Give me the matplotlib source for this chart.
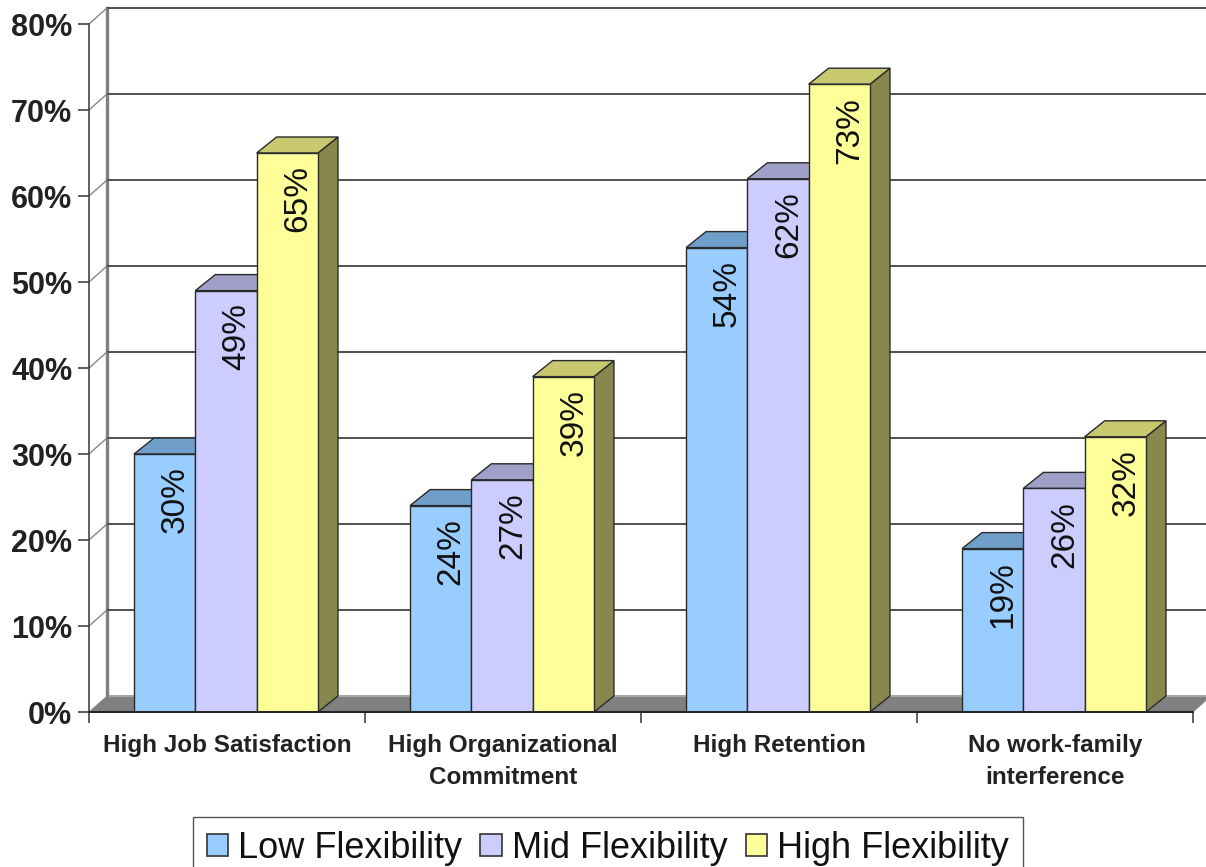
import matplotlib
matplotlib.use("Agg")
import matplotlib.pyplot as plt
from matplotlib.patches import Polygon, Patch

categories = ["High Job Satisfaction", "High Organizational\nCommitment", "High Retention", "No work-family\ninterference"]
series_names = ["Low Flexibility", "Mid Flexibility", "High Flexibility"]
low = [30, 24, 54, 19]
mid = [49, 27, 62, 26]
high = [65, 39, 73, 32]
y_ticks = [0, 10, 20, 30, 40, 50, 60, 70, 80]

front = ["#99CCFF", "#CCCCFF", "#FFFF99"]
top = ["#6F9FC8", "#A09FC8", "#C8C870"]
side = ["#5F88AE", "#86849F", "#88884E"]
EDGE = "#2A2A2A"

W, H = 1206, 867
plt.rcParams["font.family"] = ["Liberation Sans", "DejaVu Sans"]
fig = plt.figure(figsize=(W / 100, H / 100), dpi=100)
L, R, B, T = 89, 1193, 712, 24
ax = fig.add_axes([L / W, 1 - B / H, (R - L) / W, (B - T) / H])
ax.set_xlim(0, 4)
ax.set_ylim(0, 80)
ax.patch.set_visible(False)

ux = (R - L) / 4
uy = (B - T) / 80
wall_dx, wall_dy = 18 / ux, 16 / uy
bar_dx, bar_dy = 20 / ux, 16 / uy
bar_w = 61.3 / ux
shift = -1 / ux

# floor and walls
ax.add_patch(Polygon([(0, 0), (4, 0), (4 + wall_dx, wall_dy), (wall_dx, wall_dy)],
                     closed=True, fc="#808080", ec="#808080", lw=0.5, clip_on=False, zorder=1))
ax.plot([wall_dx, 4 + wall_dx], [wall_dy, wall_dy], color="#A8A8A8", lw=1.5, clip_on=False, zorder=1.1)
ax.plot([wall_dx, wall_dx], [wall_dy, 80 + wall_dy], color="#808080", lw=2.4, clip_on=False, zorder=1.2)
for v in y_ticks[1:]:
    ax.plot([wall_dx, 4 + wall_dx], [v + wall_dy, v + wall_dy], color="#333333", lw=1.2,
            clip_on=False, zorder=1.3)
    ax.plot([0, wall_dx], [v, v + wall_dy], color="#888888", lw=1.0, clip_on=False, zorder=1.35)

# bars
for s, values in enumerate([low, mid, high]):
    for c, v in enumerate(values):
        x0 = c + 0.5 + shift + (s - 1.5) * bar_w
        x1 = x0 + bar_w
        ax.add_patch(Polygon([(x1, 0), (x1 + bar_dx, bar_dy), (x1 + bar_dx, v + bar_dy), (x1, v)],
                             closed=True, fc=side[s], ec=EDGE, lw=1.0, zorder=3 + s, clip_on=False))
        ax.add_patch(Polygon([(x0, v), (x1, v), (x1 + bar_dx, v + bar_dy), (x0 + bar_dx, v + bar_dy)],
                             closed=True, fc=top[s], ec=EDGE, lw=1.0, zorder=3 + s, clip_on=False))
        ax.bar(x0, v, width=bar_w, align="edge", color=front[s], edgecolor=EDGE, lw=1.0, zorder=3.5 + s)
        ax.annotate(f"{v}%", (x0 + bar_w / 2, v), xytext=(7.5, -9), textcoords="offset points",
                    rotation=90, ha="center", va="top", fontsize=24, color="#111111", zorder=8)

# axes
for k in ("top", "right"):
    ax.spines[k].set_visible(False)
ax.spines["left"].set_color("#444444")
ax.spines["left"].set_linewidth(1.2)
ax.spines["bottom"].set_color("#222222")
ax.spines["bottom"].set_linewidth(1.4)
ax.spines["left"].set_zorder(9)
ax.spines["bottom"].set_zorder(9)
ax.set_yticks(y_ticks)
ax.set_yticklabels([f"{v}%" for v in y_ticks], fontsize=22, fontweight="bold", color="#222222")
ax.tick_params(axis="y", length=8, width=1.2, color="#444444", pad=4)
ax.set_xticks(range(5))
ax.set_xticklabels([""] * 5)
ax.tick_params(axis="x", which="major", length=8, width=1.2, color="#444444")
ax.set_xticks([i + 0.5 for i in range(4)], minor=True)
ax.set_xticklabels(categories, minor=True, fontsize=17.5, fontweight="bold", color="#222222", linespacing=1.5)
ax.tick_params(axis="x", which="minor", length=0, pad=16)

handles = [Patch(fc=front[i], ec="#333333", lw=1.2) for i in range(3)]
fig.legend(handles, series_names, loc="upper left", bbox_to_anchor=(193 / W, 1 - 817 / H),
           ncol=3, fontsize=26, frameon=True, fancybox=False, edgecolor="#555555", framealpha=1,
           handlelength=0.6, handleheight=0.6, handletextpad=0.27, columnspacing=0.5, borderpad=0.38,
           borderaxespad=0, labelcolor="#111111")

fig.savefig("out.png", dpi=100)
